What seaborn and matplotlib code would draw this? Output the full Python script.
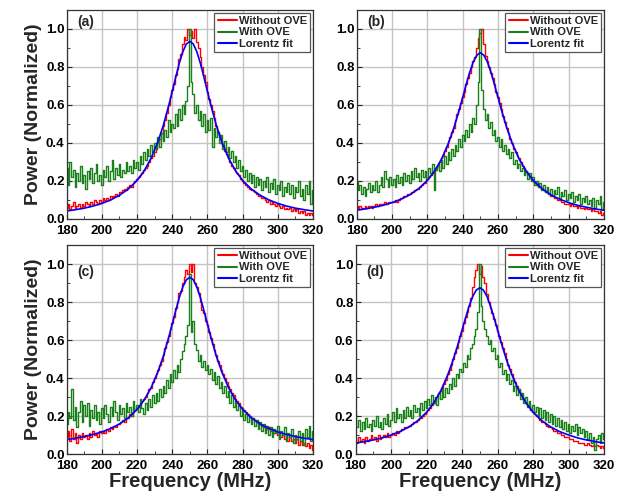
import matplotlib
matplotlib.use("Agg")
import matplotlib.pyplot as plt
from matplotlib.ticker import MultipleLocator
import seaborn as sns

# ---------------- data ----------------
freq = list(range(180, 321))  # MHz, 1 MHz sampling

fit_freq = [180, 185, 190, 195, 200, 205, 210, 215, 220, 224, 228, 232, 235, 238,
            240, 242, 244, 246, 248, 250, 252, 254, 256, 258, 260, 262, 265, 268,
            272, 276, 280, 285, 290, 295, 300, 305, 310, 315, 320]

# ---- panel (a)
red_a = [.06, .08, .05, .07, .09, .06, .07, .08, .06, .08, .07,
         .09, .08, .07, .09, .08, .10, .09, .08, .10, .09,
         .11, .10, .11, .10, .12, .11, .12, .13, .12, .14,
         .14, .15, .16, .15, .17, .18, .17, .19, .20, .21,
         .22, .23, .24, .26, .27, .28, .30, .32, .33, .35,
         .37, .40, .42, .45, .49, .52, .56, .60, .64, .68,
         .71, .76, .79, .84, .87, .92, .96, .94, 1.0, .97,
         .99, .95, 1.0, .93, .90, .85, .80, .76, .72, .67,
         .63, .60, .57, .53, .49, .46, .44, .41, .39, .36,
         .34, .32, .30, .28, .27, .25, .24, .23, .21, .20,
         .19, .18, .17, .16, .15, .15, .14, .13, .12, .12,
         .11, .11, .10, .09, .10, .08, .09, .08, .07, .08,
         .07, .06, .07, .05, .06, .05, .06, .04, .05, .04,
         .05, .03, .04, .03, .04, .02, .03, .02, .03, .02]
green_a = [.27, .18, .30, .22, .26, .17, .24, .20, .28, .19, .23,
           .16, .25, .21, .27, .19, .24, .29, .20, .23, .18,
           .26, .22, .28, .20, .25, .31, .21, .27, .23, .29,
           .22, .26, .24, .30, .25, .28, .24, .31, .27, .30,
           .26, .33, .29, .35, .31, .37, .33, .39, .35, .40,
           .37, .43, .38, .45, .41, .47, .43, .52, .46, .50,
           .48, .55, .49, .58, .52, .60, .55, .62, .70, 1.0,
           .72, .66, .56, .60, .52, .57, .49, .55, .46, .52,
           .47, .53, .38, .48, .43, .46, .40, .44, .37, .41,
           .35, .38, .32, .36, .30, .33, .27, .31, .25, .28,
           .22, .26, .20, .24, .19, .23, .17, .22, .18, .21,
           .15, .20, .17, .22, .14, .19, .16, .21, .13, .18,
           .15, .20, .12, .17, .14, .19, .13, .18, .11, .17,
           .14, .20, .12, .16, .10, .18, .13, .20, .08, .15]
fit_a = [.042, .049, .057, .068, .082, .100, .125, .157, .203, .253, .320, .410, .495,
         .597, .671, .747, .819, .880, .921, .935, .921, .880, .819, .747, .671, .597,
         .495, .410, .320, .253, .203, .157, .125, .100, .082, .068, .057, .049, .042]

# ---- panel (b)
red_b = [.07, .06, .07, .06, .06, .07, .06, .07, .07, .06, .07,
         .08, .07, .08, .08, .08, .09, .08, .09, .09, .09,
         .09, .10, .09, .10, .11, .11, .12, .12, .13, .13,
         .14, .14, .15, .16, .16, .17, .18, .19, .19, .21,
         .22, .23, .24, .25, .27, .28, .30, .32, .33, .36,
         .38, .41, .43, .46, .48, .52, .55, .58, .61, .64,
         .67, .71, .74, .77, .80, .83, .85, .90, .95, .98,
         1.0, .92, .86, .83, .80, .77, .74, .71, .67, .64,
         .61, .58, .54, .51, .48, .45, .42, .40, .37, .35,
         .33, .32, .30, .28, .27, .25, .24, .22, .21, .20,
         .19, .18, .17, .17, .16, .15, .14, .14, .13, .12,
         .12, .11, .11, .10, .10, .09, .09, .08, .08, .08,
         .07, .08, .07, .07, .06, .07, .06, .06, .05, .06,
         .05, .05, .04, .05, .04, .04, .03, .04, .02, .03]
green_b = [.20, .15, .18, .13, .17, .12, .16, .19, .14, .18, .15,
           .20, .14, .18, .22, .17, .25, .21, .17, .22, .18,
           .21, .17, .23, .19, .22, .18, .24, .20, .23, .19,
           .25, .21, .27, .22, .24, .20, .26, .22, .25, .21,
           .27, .24, .29, .15, .26, .28, .25, .31, .27, .33,
           .29, .35, .31, .37, .33, .39, .36, .42, .38, .44,
           .41, .47, .43, .50, .46, .53, .50, .60, .72, 1.0,
           .68, .58, .52, .55, .48, .51, .44, .47, .41, .43,
           .38, .42, .36, .39, .34, .37, .32, .35, .29, .31,
           .27, .29, .25, .27, .23, .25, .21, .24, .20, .22,
           .18, .20, .17, .19, .15, .18, .14, .17, .13, .16,
           .12, .15, .13, .17, .11, .14, .12, .15, .10, .13,
           .11, .14, .09, .12, .10, .13, .08, .11, .09, .12,
           .08, .10, .07, .11, .06, .10, .08, .12, .05, .09]
fit_b = [.046, .053, .062, .072, .086, .104, .127, .159, .203, .251, .315, .400, .479,
         .572, .640, .708, .773, .826, .862, .875, .862, .826, .773, .708, .640, .572,
         .479, .400, .315, .251, .203, .159, .127, .104, .086, .072, .062, .053, .046]

# ---- panel (c)
red_c = [.09, .12, .07, .13, .08, .11, .06, .10, .08, .11, .09,
         .10, .08, .11, .09, .12, .10, .11, .09, .12, .11,
         .12, .11, .13, .12, .14, .13, .15, .14, .16, .16,
         .17, .18, .17, .19, .19, .21, .20, .22, .23, .24,
         .25, .26, .28, .29, .30, .32, .34, .35, .38, .40,
         .42, .44, .47, .49, .52, .56, .59, .62, .66, .69,
         .72, .77, .80, .85, .86, .90, .93, .97, .95, 1.0,
         .96, 1.0, .90, .88, .85, .80, .76, .74, .70, .68,
         .64, .61, .58, .55, .52, .49, .47, .44, .42, .40,
         .38, .36, .34, .32, .31, .29, .28, .27, .25, .24,
         .23, .22, .21, .20, .19, .19, .18, .17, .16, .16,
         .15, .14, .15, .13, .14, .12, .13, .11, .12, .10,
         .11, .09, .10, .08, .10, .07, .09, .07, .08, .06,
         .08, .05, .07, .05, .06, .04, .06, .03, .05, .02]
green_c = [.16, .22, .19, .34, .18, .25, .14, .22, .28, .17, .26,
           .20, .27, .15, .23, .19, .26, .18, .22, .16, .24,
           .19, .26, .21, .17, .25, .20, .28, .22, .18, .26,
           .21, .24, .19, .27, .22, .25, .20, .28, .23, .26,
           .22, .29, .24, .21, .27, .23, .29, .25, .31, .27,
           .32, .28, .34, .30, .36, .32, .39, .35, .42, .38,
           .44, .40, .47, .43, .50, .54, .58, .62, .68, .95,
           .64, .70, .58, .55, .49, .52, .46, .49, .44, .47,
           .42, .45, .39, .43, .37, .41, .35, .38, .32, .36,
           .30, .33, .27, .31, .25, .28, .23, .26, .20, .23,
           .18, .21, .17, .20, .16, .19, .15, .18, .13, .17,
           .12, .16, .11, .15, .10, .14, .09, .13, .11, .15,
           .08, .12, .10, .14, .07, .11, .09, .13, .06, .10,
           .08, .12, .07, .11, .05, .13, .09, .15, .07, .12]
fit_c = [.076, .083, .092, .103, .116, .134, .158, .190, .235, .284, .349, .436, .517,
         .614, .684, .755, .823, .879, .917, .930, .917, .879, .823, .755, .684, .614,
         .517, .436, .349, .284, .235, .190, .158, .134, .116, .103, .092, .083, .076]

# ---- panel (d)
red_d = [.08, .06, .09, .07, .08, .06, .09, .07, .08, .10, .08,
         .09, .07, .10, .08, .09, .10, .09, .11, .09, .10,
         .11, .10, .12, .11, .12, .13, .13, .14, .14, .15,
         .15, .16, .17, .17, .18, .19, .19, .20, .21, .22,
         .23, .24, .26, .27, .28, .30, .32, .33, .35, .37,
         .39, .42, .44, .47, .50, .53, .56, .59, .62, .65,
         .69, .72, .75, .78, .82, .88, .93, .97, 1.0, .95,
         .99, .93, .90, .84, .80, .77, .74, .71, .68, .65,
         .62, .59, .56, .53, .50, .47, .45, .42, .40, .38,
         .36, .34, .32, .30, .29, .27, .26, .25, .23, .22,
         .21, .20, .19, .18, .17, .17, .16, .15, .14, .14,
         .13, .12, .12, .11, .11, .10, .10, .09, .09, .09,
         .08, .08, .07, .07, .07, .06, .06, .06, .05, .05,
         .06, .05, .04, .05, .04, .05, .04, .03, .04, .03]
green_d = [.22, .14, .18, .12, .17, .13, .19, .14, .16, .12, .18,
           .15, .20, .14, .17, .13, .19, .16, .21, .15, .18,
           .22, .17, .24, .19, .21, .17, .23, .19, .25, .20,
           .23, .19, .26, .22, .24, .20, .27, .23, .28, .24,
           .29, .26, .31, .27, .30, .26, .32, .29, .34, .30,
           .35, .32, .37, .34, .40, .36, .42, .40, .45, .43,
           .48, .46, .52, .50, .56, .58, .62, .66, .75, 1.0,
           .78, .70, .66, .62, .58, .60, .54, .56, .50, .52,
           .46, .48, .42, .44, .39, .42, .37, .39, .33, .36,
           .31, .34, .29, .32, .27, .30, .25, .28, .23, .26,
           .22, .25, .20, .24, .19, .23, .18, .22, .17, .21,
           .16, .20, .15, .19, .14, .18, .13, .17, .12, .16,
           .11, .15, .12, .16, .10, .14, .11, .13, .09, .12,
           .08, .11, .06, .09, .02, .08, .10, .06, .11, .08]
fit_d = [.058, .065, .074, .085, .100, .118, .142, .175, .220, .269, .333, .418, .496,
         .587, .653, .718, .779, .830, .863, .875, .863, .830, .779, .718, .653, .587,
         .496, .418, .333, .269, .220, .175, .142, .118, .100, .085, .074, .065, .058]

panel_labels = ["(a)", "(b)", "(c)", "(d)"]
series_names = ["Without OVE", "With OVE", "Lorentz fit"]
x_ticks = [180, 200, 220, 240, 260, 280, 300, 320]
y_ticks = [0.0, 0.2, 0.4, 0.6, 0.8, 1.0]
y_ticklabels = ["0.0", "0.2", "0.4", "0.6", "0.8", "1.0"]

# ---------------- styling ----------------
sns.set_theme(style="whitegrid")
plt.rcParams["font.family"] = ["Liberation Sans", "DejaVu Sans"]
plt.rcParams["font.weight"] = "bold"

fig = plt.figure(figsize=(6.26, 4.95), dpi=100)

positions = [
    [0.1065, 0.5576, 0.3935, 0.4222],
    [0.5698, 0.5576, 0.3950, 0.4222],
    [0.1065, 0.0828, 0.3935, 0.4222],
    [0.5680, 0.0828, 0.3970, 0.4222],
]
label_y = [1.035, 1.035, 0.96, 0.96]
panels = [(red_a, green_a, fit_a), (red_b, green_b, fit_b),
          (red_c, green_c, fit_c), (red_d, green_d, fit_d)]

RED, GREEN, BLUE = "#ff0000", "#1a801a", "#0000ff"

for i, (red, green, fit) in enumerate(panels):
    ax = fig.add_axes(positions[i])
    sns.lineplot(x=freq, y=red, ax=ax, color=RED, lw=1.0, drawstyle="steps-mid",
                 estimator=None, sort=False, label=series_names[0])
    sns.lineplot(x=freq, y=green, ax=ax, color=GREEN, lw=1.0, drawstyle="steps-mid",
                 estimator=None, sort=False, label=series_names[1])
    sns.lineplot(x=fit_freq, y=fit, ax=ax, color=BLUE, lw=1.2,
                 estimator=None, sort=False, label=series_names[2])

    ax.set_xlim(180, 320)
    ax.set_ylim(0, 1.1)
    ax.set_xticks(x_ticks)
    ax.set_yticks(y_ticks)
    ax.set_yticklabels(y_ticklabels)
    ax.xaxis.set_minor_locator(MultipleLocator(10))
    ax.yaxis.set_minor_locator(MultipleLocator(0.1))
    ax.grid(True, which="major", color="#c4c4c4", lw=1.0)
    ax.grid(False, which="minor")
    ax.tick_params(axis="both", which="major", direction="in", length=3.5, width=0.8,
                   labelsize=9.5, left=True, bottom=True, colors="#222222",
                   labelcolor="black")
    ax.tick_params(axis="x", which="major", pad=4)
    ax.tick_params(axis="y", which="major", pad=1.5)
    ax.tick_params(axis="both", which="minor", direction="in", length=2, width=0.6,
                   left=True, bottom=True, colors="#222222")
    for lab in ax.get_xticklabels() + ax.get_yticklabels():
        lab.set_fontweight("bold")
    for sp in ax.spines.values():
        sp.set_color("#333333")
        sp.set_linewidth(0.9)

    ax.text(191, label_y[i], panel_labels[i], fontsize=10, fontweight="bold",
            ha="center", va="center")

    leg = ax.legend(loc="upper right", prop={"weight": "bold", "size": 8},
                    frameon=True, fancybox=False, framealpha=1, edgecolor="#555555",
                    handlelength=1.7, handletextpad=0.2, labelspacing=0.12,
                    borderpad=0.3, borderaxespad=0.25)
    leg.get_frame().set_linewidth(0.9)
    for ln in leg.get_lines():
        ln.set_linewidth(1.5)

    if i in (0, 2):
        ax.set_ylabel("Power (Normalized)", fontsize=14, fontweight="bold", labelpad=3)
    else:
        ax.set_ylabel("")
    if i in (2, 3):
        ax.set_xlabel("Frequency (MHz)", fontsize=14.5, fontweight="bold", labelpad=0)
    else:
        ax.set_xlabel("")

fig.savefig("out.png", dpi=100)
